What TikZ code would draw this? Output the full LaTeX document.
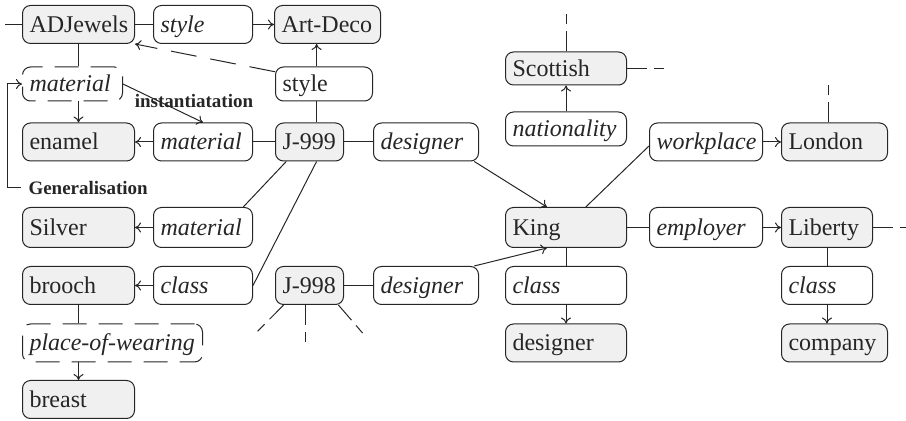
\documentclass[tikz,border=0pt]{standalone}
\usepackage{fontspec}
\setmainfont{Liberation Serif}
\usepackage{tikz}
\usetikzlibrary{arrows.meta,calc}

\begin{document}
\begin{tikzpicture}[x=0.5pt,y=-0.5pt,line width=0.5pt,black!85,
	>={To[length=3pt,width=5pt]},
	every node/.style={font=\fontsize{12}{14}\selectfont},
	box/.style={draw=black!85, rounded corners=4pt, anchor=west, inner xsep=3.5pt, inner ysep=0pt,
		minimum height=19pt, text height=8pt, text depth=0pt, align=left},
	ent/.style={box, fill=black!6, text width=#1},
	obj/.style={box, fill=white, text width=#1},
	rel/.style={box, fill=white, text width=#1, font=\fontsize{12}{14}\selectfont\itshape},
	dbox/.style={rel=#1, dash pattern=on 12pt off 6pt},
	lbl/.style={font=\fontsize{9.5}{11}\selectfont\bfseries, inner sep=0pt},
	stub/.style={dash pattern=on 10pt off 3.5pt on 5pt off 30pt},
	longdash/.style={dash pattern=on 13pt off 7pt}]

	\useasboundingbox (0,0) rectangle (906,421);

	% column 1 to 4
	\node[ent=49pt] (adj) at (22,24.5) {ADJewels};
	\node[rel=42.5pt] (sty1) at (153,24.5) {style};
	\node[ent=46pt] (art) at (274,24.5) {Art-Deco};
	\node[dbox=43pt, minimum height=17pt] (mat) at (22,84) {material};
	\node[obj=41.5pt, minimum height=17pt] (sty) at (275,84) {style};
	\node[ent=49pt] (enamel) at (22,142) {enamel};
	\node[rel=42.5pt] (mat1) at (153,142) {material};
	\node[ent=27pt] (j999) at (275,142) {J-999};
	\node[rel=45.5pt] (des1) at (373,142) {designer};
	\node[ent=49pt, minimum height=20pt] (silver) at (22,227.5) {Silver};
	\node[rel=42.5pt, minimum height=20pt] (mat2) at (153,227.5) {material};
	\node[ent=49pt] (brooch) at (22,285.5) {brooch};
	\node[rel=42.5pt] (cls1) at (153,285.5) {class};
	\node[ent=27pt] (j998) at (275,285.5) {J-998};
	\node[rel=45.5pt] (des2) at (373,285.5) {designer};
	\node[dbox=83pt] (pow) at (22,343) {place-of-wearing};
	\node[ent=49pt] (breast) at (22,399.5) {breast};

	% column 5 to 7
	\node[ent=53.5pt, minimum height=16.5pt] (scot) at (505,68.5) {Scottish};
	\node[rel=53.5pt, minimum height=17pt] (nat) at (505,129) {nationality};
	\node[rel=49.5pt] (work) at (649,142) {workplace};
	\node[ent=46pt] (lond) at (781,142) {London};
	\node[ent=53.5pt, minimum height=20pt] (king) at (505,227.5) {King};
	\node[rel=49.5pt, minimum height=20pt] (empl) at (649,227.5) {employer};
	\node[ent=38.5pt, minimum height=20pt] (lib) at (781,227.5) {Liberty};
	\node[rel=53.5pt] (kcls) at (505,285.5) {class};
	\node[rel=38.5pt] (lcls) at (781,285.5) {class};
	\node[ent=53.5pt] (kdes) at (505,343) {designer};
	\node[ent=46pt] (comp) at (781,343) {company};

	\node[lbl] (inst) at (194,101.5) {instantiatation};
	\node[lbl, anchor=west, inner xsep=3.5pt] (gen) at (21,188) {Generalisation};

	\coordinate (adjin) at (5,24.5);
	\coordinate (scotn) at (566,13);
	\coordinate (scote) at (672,68.5);
	\coordinate (londn) at (828,78);
	\coordinate (libe) at (910,227.5);
	\coordinate (j998sw) at (252,337);
	\coordinate (j998s) at (305,342);
	\coordinate (j998se) at (366,337);

	\draw (adjin) -- (adj.west);
	\draw (adj.east) -- (sty1.west);
	\draw[->] (sty1.east) -- (art.west);
	\draw (adj.south) -- (adj.south |- mat.north);
	\draw[->] (enamel.north |- mat.south) -- (enamel.north);
	\draw[->, longdash] (sty.166) -- (adj.south east);
	\draw (j999.70) -- (j999.70 |- sty.south);
	\draw[->] (j999.70 |- sty.north) -- (j999.70 |- art.south);
	\draw[->] (mat.east) -- (mat1.north);
	\draw[->] (gen.west) -- ++(-14,0) |- (mat.west);
	\draw (j999.west) -- (mat1.east);
	\draw[->] (mat1.west) -- (enamel.east);
	\draw (j999.east) -- (des1.west);
	\draw[->] (des1.-22) -- (king.133);
	\draw (j999.220) -- (mat2.27);
	\draw (j999.-70) -- (cls1.east);
	\draw[->] (mat2.west) -- (silver.east);
	\draw[->] (cls1.west) -- (brooch.east);
	\draw (brooch.south) -- (brooch.south |- pow.north);
	\draw[->] (breast.north |- pow.south) -- (breast.north);
	\draw (j998.east) -- (des2.west);
	\draw[->] (des2.22) -- (king.227);
	\draw[stub] (j998.217) -- (j998sw);
	\draw[stub] (j998.south -| j998s) -- (j998s);
	\draw[stub] (j998.326) -- (j998se);

	\draw[stub] (scot.north -| scotn) -- (scotn);
	\draw[stub] (scot.east) -- (scote);
	\draw[->] (nat.north) -- (scot.south);
	\draw (king.46) -- (work.184);
	\draw[->] (work.east) -- (lond.west);
	\draw[stub] (lond.north -| londn) -- (londn);
	\draw (king.east) -- (empl.west);
	\draw[->] (empl.east) -- (lib.west);
	\draw[stub] (lib.east) -- (libe);
	\draw (king.south) -- (kcls.north);
	\draw[->] (kcls.south) -- (kdes.north);
	\draw (lib.south) -- (lcls.north);
	\draw[->] (lcls.south) -- (lcls.south |- comp.north);

\end{tikzpicture}
\end{document}
